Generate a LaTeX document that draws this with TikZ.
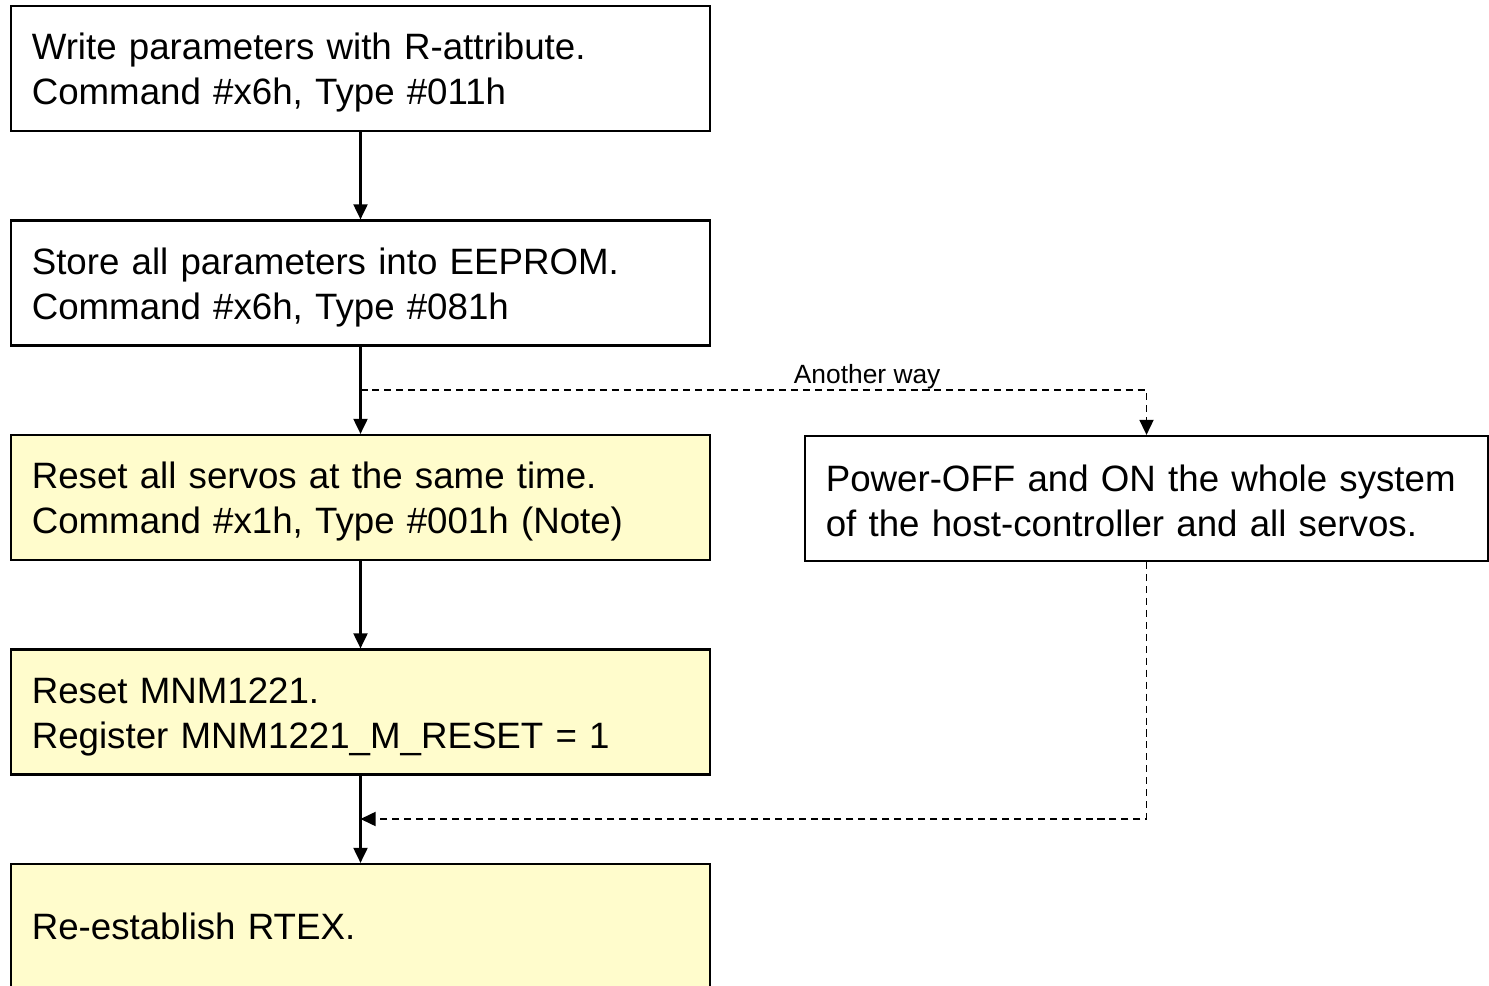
\documentclass[tikz,border=0pt]{standalone}
\usepackage{fontspec}
\setmainfont{Liberation Sans}
\usetikzlibrary{arrows.meta}
\tikzstyle{stage}=[rectangle,draw=black,line width=0.6pt,fill=white,minimum width=6.99cm,minimum height=1.25cm,text width=6.57cm,inner xsep=0.21cm,align=left,text height=7.6pt,text depth=12.7pt,font=\fontsize{10.43}{12.8}\selectfont]
\tikzstyle{reset}=[stage,fill=yellow!20]
\tikzstyle{other}=[stage,minimum width=6.83cm,text width=6.41cm]
\tikzstyle{flow}=[line width=0.6pt,-{Triangle[length=4.3pt,width=4pt]}]
\tikzstyle{alt}=[flow,line width=0.5pt,dash pattern=on 2pt off 1.4pt]

\begin{document}
\begin{tikzpicture}[x=0.01cm,y=-0.01cm]
        \useasboundingbox (0,0) rectangle (1489,986);
        \clip (0,0) rectangle (1489,986);

        \node at (360.5,68.5)  [stage] (write)    {Write parameters with R-attribute.\\Command \#x6h, Type \#011h};
        \node at (360.5,283)   [stage] (store)    {Store all parameters into EEPROM.\\Command \#x6h, Type \#081h};
        \node at (360.5,497.5) [reset] (resetall) {Reset all servos at the same time.\\Command \#x1h, Type \#001h (Note)};
        \node at (360.5,712)   [reset] (resetmnm) {Reset MNM1221.\\Register MNM1221\_M\_RESET = 1};
        \node at (360.5,926.5) [reset,text depth=-1pt] (rtex) {Re-establish RTEX.};
        \node at (1146.5,498.5) [other,text depth=11.7pt] (power) {Power-OFF and ON the whole system\\of the host-controller and all servos.};

        \coordinate (fork)  at (360.5,390);
        \coordinate (merge) at (360.5,819);

        \draw [flow] (write) -- (store);
        \draw [flow] (store) -- (resetall);
        \draw [flow] (resetall) -- (resetmnm);
        \draw [flow] (resetmnm) -- (rtex);
        \draw [alt] (fork) -| node [pos=0.3223,above,inner sep=0pt,font=\fontsize{7.5}{9}\selectfont] {Another way} (power);
        \draw [alt] (power) |- (merge);
      \end{tikzpicture}
\end{document}
